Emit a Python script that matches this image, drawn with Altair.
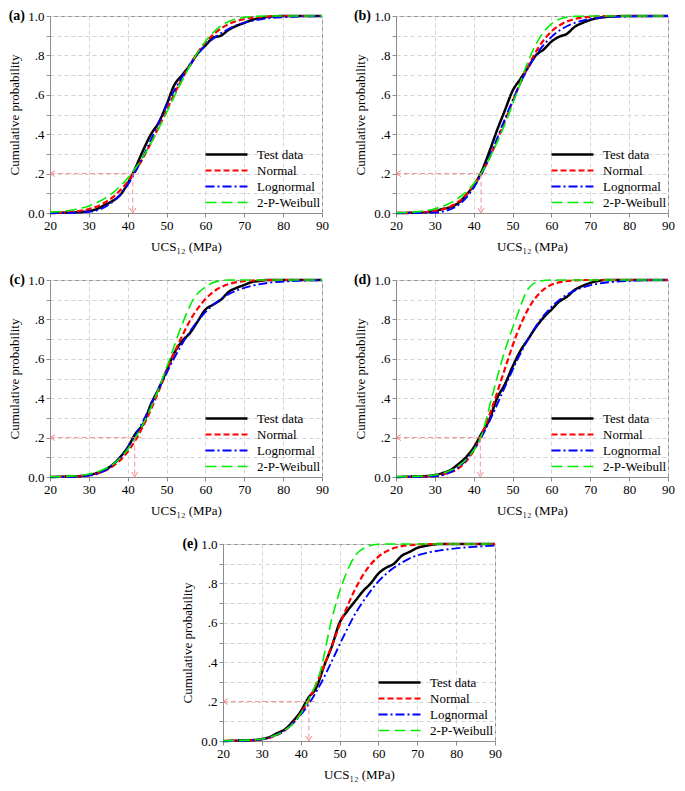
import altair as alt
import pandas as pd

PANELS = ["(a)", "(b)", "(c)", "(d)", "(e)"]
SERIES = ["Test data", "Normal", "Lognormal", "2-P-Weibull"]
COLORS = ["#000000", "#ff0000", "#0000ff", "#00ee00"]
DASHES = [[1, 0], [6, 3], [9, 3, 2, 3], [11, 5]]
WIDTHS = [2.5, 1.6, 1.6, 1.6]

TEST_X = [20, 24, 28, 30, 32, 34, 36, 38, 40, 42, 44, 46, 48, 50, 52, 54, 56, 58,
          60, 62, 64, 66, 68, 70, 72, 74, 76, 80, 90]
FIT_X = [20, 25, 30, 33, 36, 39, 42, 45, 48, 51, 54, 57, 60, 63, 66, 69, 72, 76, 80, 85, 90]

TEST_A = [0, 0.002, 0.005, 0.01, 0.02, 0.04, 0.06, 0.09, 0.15, 0.23, 0.32, 0.40, 0.46, 0.55,
          0.65, 0.70, 0.75, 0.81, 0.85, 0.89, 0.90, 0.93, 0.95, 0.965, 0.98, 0.99, 0.995, 1.0, 1.0]
TEST_B = [0, 0.001, 0.005, 0.01, 0.02, 0.03, 0.05, 0.09, 0.14, 0.21, 0.31, 0.42, 0.52, 0.62,
          0.68, 0.74, 0.80, 0.83, 0.87, 0.895, 0.91, 0.945, 0.965, 0.98, 0.99, 0.995, 0.998, 1.0, 1.0]
TEST_C = [0, 0.002, 0.005, 0.01, 0.02, 0.035, 0.06, 0.10, 0.15, 0.22, 0.27, 0.37, 0.45, 0.54,
          0.63, 0.69, 0.73, 0.79, 0.85, 0.875, 0.90, 0.94, 0.96, 0.975, 0.99, 0.995, 1.0, 1.0, 1.0]
TEST_D = [0, 0.002, 0.005, 0.01, 0.02, 0.035, 0.065, 0.10, 0.15, 0.22, 0.29, 0.40, 0.47, 0.56,
          0.64, 0.70, 0.76, 0.81, 0.85, 0.89, 0.915, 0.95, 0.97, 0.985, 0.995, 1.0, 1.0, 1.0, 1.0]
TEST_E = [0, 0.002, 0.005, 0.01, 0.02, 0.04, 0.06, 0.10, 0.15, 0.22, 0.27, 0.38, 0.48, 0.60,
          0.66, 0.71, 0.76, 0.80, 0.85, 0.88, 0.90, 0.94, 0.96, 0.98, 0.99, 0.997, 1.0, 1.0, 1.0]

NORMAL_A = [0.001, 0.005, 0.020, 0.041, 0.078, 0.135, 0.215, 0.318, 0.437, 0.563, 0.682,
            0.785, 0.865, 0.922, 0.959, 0.980, 0.991, 0.997, 0.999, 1.0, 1.0]
NORMAL_B = [0.000, 0.002, 0.010, 0.025, 0.056, 0.113, 0.200, 0.322, 0.465, 0.614, 0.745,
            0.850, 0.921, 0.963, 0.985, 0.994, 0.998, 1.0, 1.0, 1.0, 1.0]
NORMAL_C = [0.000, 0.002, 0.009, 0.023, 0.053, 0.104, 0.187, 0.300, 0.437, 0.583, 0.716,
            0.826, 0.903, 0.953, 0.979, 0.992, 0.997, 0.999, 1.0, 1.0, 1.0]
NORMAL_D = [0.0, 0.0, 0.006, 0.018, 0.043, 0.104, 0.212, 0.367, 0.548, 0.721, 0.852,
            0.934, 0.976, 0.992, 0.998, 1.0, 1.0, 1.0, 1.0, 1.0, 1.0]
NORMAL_E = [0.0, 0.001, 0.009, 0.023, 0.055, 0.113, 0.206, 0.334, 0.484, 0.637, 0.770,
            0.871, 0.936, 0.972, 0.989, 0.996, 0.999, 1.0, 1.0, 1.0, 1.0]

LOGN_A = [0.0, 0.0003, 0.006, 0.02, 0.055, 0.115, 0.21, 0.33, 0.46, 0.585, 0.69,
          0.78, 0.85, 0.90, 0.935, 0.96, 0.975, 0.988, 0.994, 0.998, 0.999]
LOGN_B = [0.0, 0.0, 0.002, 0.012, 0.040, 0.100, 0.198, 0.330, 0.476, 0.616, 0.736,
          0.829, 0.894, 0.938, 0.965, 0.981, 0.990, 0.996, 0.998, 0.999, 1.0]
LOGN_C = [0.0, 0.0, 0.007, 0.022, 0.058, 0.121, 0.212, 0.325, 0.447, 0.567, 0.675,
          0.766, 0.837, 0.890, 0.928, 0.954, 0.971, 0.985, 0.992, 0.997, 0.999]
LOGN_D = [0.0, 0.0, 0.004, 0.016, 0.048, 0.109, 0.202, 0.323, 0.456, 0.586, 0.700,
          0.793, 0.863, 0.913, 0.946, 0.968, 0.981, 0.991, 0.996, 0.999, 1.0]
LOGN_E = [0.0, 0.001, 0.008, 0.025, 0.055, 0.11, 0.185, 0.285, 0.405, 0.53, 0.645,
          0.735, 0.81, 0.865, 0.905, 0.935, 0.953, 0.968, 0.978, 0.986, 0.992]

WEIB_A = [0.0035, 0.0127, 0.036, 0.062, 0.10, 0.155, 0.228, 0.321, 0.43, 0.551, 0.672,
          0.782, 0.871, 0.935, 0.972, 0.990, 0.997, 1.0, 1.0, 1.0, 1.0]
WEIB_B = [0.001, 0.005, 0.022, 0.042, 0.075, 0.125, 0.205, 0.315, 0.45, 0.605, 0.77,
          0.89, 0.96, 0.99, 0.998, 1.0, 1.0, 1.0, 1.0, 1.0, 1.0]
WEIB_C = [0.001, 0.004, 0.015, 0.032, 0.062, 0.115, 0.20, 0.31, 0.45, 0.61, 0.775,
          0.905, 0.965, 0.993, 1.0, 1.0, 1.0, 1.0, 1.0, 1.0, 1.0]
WEIB_D = [0.001, 0.003, 0.01, 0.025, 0.055, 0.11, 0.21, 0.43, 0.64, 0.81, 0.955,
          0.995, 1.0, 1.0, 1.0, 1.0, 1.0, 1.0, 1.0, 1.0, 1.0]
WEIB_E = [0.001, 0.003, 0.01, 0.025, 0.055, 0.11, 0.21, 0.35, 0.62, 0.815, 0.94,
          0.985, 0.999, 1.0, 1.0, 1.0, 1.0, 1.0, 1.0, 1.0, 1.0]

TEST = [TEST_A, TEST_B, TEST_C, TEST_D, TEST_E]
NORMAL = [NORMAL_A, NORMAL_B, NORMAL_C, NORMAL_D, NORMAL_E]
LOGN = [LOGN_A, LOGN_B, LOGN_C, LOGN_D, LOGN_E]
WEIB = [WEIB_A, WEIB_B, WEIB_C, WEIB_D, WEIB_E]

X_TICKS = [20, 30, 40, 50, 60, 70, 80, 90]
Y_GRID = [0.0, 0.1, 0.2, 0.3, 0.4, 0.5, 0.6, 0.7, 0.8, 0.9, 1.0]

DROP_X = [41.3, 41.9, 41.8, 41.7, 42.1]
H_END = [43.0, 43.5, 43.5, 43.2, 43.6]
LEVEL = 0.2

W = 272
H = 197
ARROW = "#f08080"
FONT = "Liberation Serif"

XAXIS = alt.Axis(values=X_TICKS, tickCount=len(X_TICKS), title="UCS₁₂ (MPa)",
                 titlePadding=8, labelOverlap=False, labelFlush=False, labelBound=False)
YAXIS = alt.Axis(values=Y_GRID, tickCount=len(Y_GRID),
                 labelExpr="round(datum.value*10)%2==1 ? '' : (datum.value==0 ? '0.0' : (datum.value>=0.999 ? '1.0' : '.' + round(datum.value*10)))",
                 title="Cumulative probability", titlePadding=6,
                 labelOverlap=False, labelFlush=False, labelBound=False)
XSCALE = alt.Scale(domain=[20, 90])
YSCALE = alt.Scale(domain=[0, 1])


def panel(i):
    rows = []
    for x, p in zip(TEST_X, TEST[i]):
        rows.append({"x": x, "p": p, "s": "Test data"})
    for name, arr in (("Normal", NORMAL), ("Lognormal", LOGN), ("2-P-Weibull", WEIB)):
        for x, p in zip(FIT_X, arr[i]):
            rows.append({"x": x, "p": p, "s": name})
    df = pd.DataFrame(rows)

    leg = alt.Legend(title=None, orient="none", legendX=W - 102, legendY=H - 65,
                     symbolType="M-4,0H4", symbolSize=110, labelOffset=24,
                     labelFont=FONT, labelFontSize=13, labelColor="black",
                     rowPadding=2)

    lines = alt.Chart(df).mark_line(interpolate="monotone").encode(
        x=alt.X("x:Q", scale=XSCALE, axis=XAXIS),
        y=alt.Y("p:Q", scale=YSCALE, axis=YAXIS),
        color=alt.Color("s:N", scale=alt.Scale(domain=SERIES, range=COLORS), legend=leg),
        strokeDash=alt.StrokeDash("s:N", scale=alt.Scale(domain=SERIES, range=DASHES), legend=leg),
        strokeWidth=alt.StrokeWidth("s:N", scale=alt.Scale(domain=SERIES, range=WIDTHS), legend=leg),
    )

    hdf = pd.DataFrame({"x": [20], "x2": [H_END[i]], "p": [LEVEL]})
    hrule = alt.Chart(hdf).mark_rule(color=ARROW, strokeDash=[5, 3], strokeWidth=1, opacity=0.85).encode(
        x=alt.X("x:Q", scale=XSCALE, axis=XAXIS), x2="x2:Q",
        y=alt.Y("p:Q", scale=YSCALE, axis=YAXIS))
    vdf = pd.DataFrame({"x": [DROP_X[i]], "p": [LEVEL], "p2": [0]})
    vrule = alt.Chart(vdf).mark_rule(color=ARROW, strokeDash=[5, 3], strokeWidth=1, opacity=0.85).encode(
        x=alt.X("x:Q", scale=XSCALE, axis=XAXIS),
        y=alt.Y("p:Q", scale=YSCALE, axis=YAXIS), y2="p2:Q")
    lhead = alt.Chart(pd.DataFrame({"x": [20], "p": [LEVEL]})).mark_point(
        shape="M1,-0.6L0,0L1,0.6", size=100, filled=False, color=ARROW, strokeWidth=1, opacity=0.9
    ).encode(x=alt.X("x:Q", scale=XSCALE, axis=XAXIS), y=alt.Y("p:Q", scale=YSCALE, axis=YAXIS))
    dhead = alt.Chart(pd.DataFrame({"x": [DROP_X[i]], "p": [0]})).mark_point(
        shape="M-0.6,-1L0,0L0.6,-1", size=100, filled=False, color=ARROW, strokeWidth=1, opacity=0.9
    ).encode(x=alt.X("x:Q", scale=XSCALE, axis=XAXIS), y=alt.Y("p:Q", scale=YSCALE, axis=YAXIS))
    label = alt.Chart(pd.DataFrame({"t": [PANELS[i]]})).mark_text(
        align="right", baseline="middle", font=FONT, fontSize=14, fontWeight="bold", color="black"
    ).encode(text="t:N", x=alt.value(-25), y=alt.value(0))

    return alt.layer(lines, hrule, vrule, lhead, dhead, label).properties(width=W, height=H)


res = dict(color="independent", strokeDash="independent", strokeWidth="independent")
row1 = alt.hconcat(panel(0), panel(1), spacing=24).resolve_scale(**res)
row2 = alt.hconcat(panel(2), panel(3), spacing=24).resolve_scale(**res)
row3 = panel(4)

chart = alt.vconcat(row1, row2, row3, spacing=18, center=True).resolve_scale(**res).properties(
    padding=0
).configure_view(stroke="#8c8c8c", strokeWidth=1).configure_axis(
    labelFont=FONT, titleFont=FONT, labelFontSize=13, titleFontSize=13,
    titleFontWeight="normal", labelColor="black", titleColor="black",
    domainColor="#8c8c8c", tickColor="#8c8c8c", gridColor="#d4d4d4", gridDash=[4, 3],
    tickSize=4, labelPadding=2
)

chart.save("out.html", embed_options={"renderer": "svg", "actions": False})
